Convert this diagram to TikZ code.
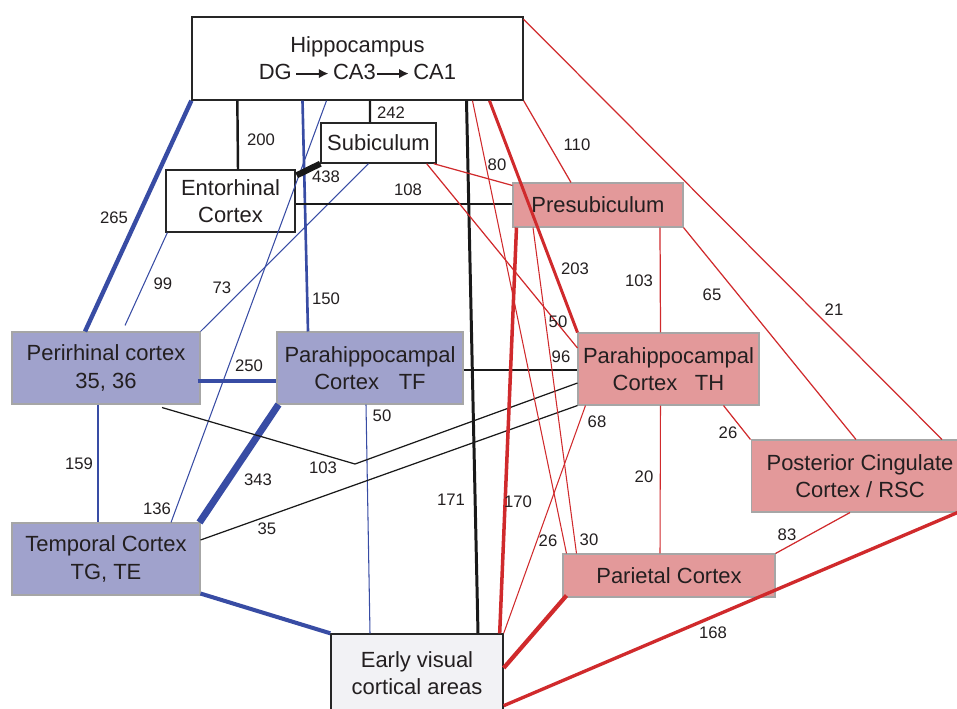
\documentclass[tikz,border=0pt]{standalone}
\usepackage{fontspec}
\setmainfont{Liberation Sans}
\usetikzlibrary{arrows.meta,calc}
\definecolor{txt}{RGB}{35,31,32}
\definecolor{linkblue}{RGB}{56,76,164}
\definecolor{linkred}{RGB}{208,42,44}
\definecolor{boxblue}{RGB}{160,162,204}
\definecolor{boxred}{RGB}{227,153,154}
\definecolor{boxgray}{RGB}{242,242,245}
\newcommand{\cafarrow}{\tikz[baseline=-0.55ex]\draw[draw=txt,line width=1.1pt,-{Latex[length=5.5pt,width=5.5pt]}] (0,0) -- (0.64cm,0);}

\begin{document}
\begin{tikzpicture}[x=0.02cm,y=-0.02cm]
    \tikzstyle{area}=[rectangle,inner sep=0pt,align=center,text=txt,font=\fontsize{12.5}{15.5}\selectfont]
    \tikzstyle{plainbox}=[area,draw=black!85,line width=0.8pt,fill=white]
    \tikzstyle{bluebox}=[area,draw=gray!70,line width=0.6pt,fill=boxblue]
    \tikzstyle{redbox}=[area,draw=gray!70,line width=0.6pt,fill=boxred]
    \tikzstyle{num}=[text=txt,inner sep=1pt,font=\fontsize{9.5}{11}\selectfont]
    \tikzstyle{bl}=[draw=linkblue]
    \tikzstyle{rl}=[draw=linkred]
    \tikzstyle{kl}=[draw=black!90]
    \useasboundingbox (0,0) rectangle (957,708);
    \node (hippo) at (357.5,58.5) [plainbox,minimum width=6.62cm,minimum height=1.66cm] {Hippocampus\\DG\,\cafarrow\,CA3\cafarrow\,CA1};
    \node (sub) at (378.5,143) [plainbox,minimum width=2.3cm,minimum height=0.8cm] {Subiculum};
    \node (ento) at (230.5,201) [plainbox,minimum width=2.58cm,minimum height=1.24cm] {Entorhinal\\Cortex};
    \node (presub) at (598,205) [redbox,minimum width=3.4cm,minimum height=0.88cm] {Presubiculum};
    \node (peri) at (106,368) [bluebox,minimum width=3.76cm,minimum height=1.44cm] {Perirhinal cortex\\35, 36};
    \node (tf) at (370,368) [bluebox,minimum width=3.72cm,minimum height=1.44cm] {Parahippocampal\\Cortex\hspace{0.9em}TF};
    \node (th) at (668.5,369) [redbox,minimum width=3.62cm,minimum height=1.44cm] {Parahippocampal\\Cortex\hspace{0.8em}TH};
    \node (pcc) at (860,476) [redbox,minimum width=4.36cm,minimum height=1.44cm] {Posterior Cingulate\\Cortex / RSC};
    \node (temp) at (106,559) [bluebox,minimum width=3.76cm,minimum height=1.44cm] {Temporal Cortex\\TG, TE};
    \node (par) at (669,575.5) [redbox,minimum width=4.24cm,minimum height=0.86cm] {Parietal Cortex};
    \node (early) at (417,673) [plainbox,fill=boxgray,minimum width=3.44cm,minimum height=1.56cm] {Early visual\\cortical areas};
    \coordinate (bend) at (355,464);
    \draw [bl,line width=2.5pt] (hippo.south west) -- ($(peri.north)+(-21,0)$);
    \draw [bl,line width=0.6pt] ($(ento.south west)+(2,0)$) -- ($(peri.north)+(19,-6)$);
    \draw [bl,line width=0.6pt] (peri.north east) -- ($(sub.south)+(-10,0)$);
    \draw [bl,line width=1.5pt] ($(hippo.south)+(-55,0)$) -- ($(tf.north)+(-62,0)$);
    \draw [bl,line width=0.6pt] ($(hippo.south)+(-31,0)$) -- ($(temp.north)+(65,0)$);
    \draw [bl,line width=2.3pt] ($(peri.east)+(-3,13)$) -- ($(tf.west)+(0,13)$);
    \draw [bl,line width=1.5pt] ($(peri.south)+(-8,0)$) -- ($(temp.north)+(-8,0)$);
    \draw [bl,line width=4pt] ($(tf.south west)+(2,0)$) -- ($(temp.north east)+(-1,0)$);
    \draw [bl,line width=0.6pt] ($(tf.south)+(-4,0)$) -- ($(early.north)+(-47,0)$);
    \draw [bl,line width=2.3pt] ($(temp.south east)+(0,-2)$) -- (early.north west);
    \draw [kl,line width=1.4pt] ($(hippo.south west)+(46,0)$) -- ($(ento.north)+(7.5,0)$);
    \draw [kl,line width=1.4pt] ($(hippo.south)+(12.5,0)$) -- ($(sub.north)+(-8.5,0)$);
    \draw [kl,line width=3.5pt] (sub.south west) -- ($(ento.north east)+(1,6)$);
    \draw [kl,line width=0.7pt] ($(ento.east)+(0,3)$) -- ($(presub.west)+(0,-1)$);
    \draw [kl,line width=1.7pt] ($(hippo.south)+(109,0)$) -- ($(early.north)+(61,0)$);
    \draw [kl,line width=0.7pt] ($(tf.east)+(0,2)$) -- ($(th.west)+(0,1)$);
    \draw [kl,line width=0.7pt] ($(peri.south)+(56,3)$) -- (bend) -- ($(th.west)+(0,14)$);
    \draw [kl,line width=0.7pt] ($(temp.east)+(0,-19)$) -- (th.south west);
    \draw [rl,line width=0.7pt] (hippo.south east) -- ($(presub.north)+(-27,0)$);
    \draw [rl,line width=0.7pt] ($(hippo.north east)+(0,3)$) -- ($(pcc.north)+(82,0)$);
    \draw [rl,line width=0.7pt] (presub.south east) -- ($(pcc.north)+(-4,0)$);
    \draw [rl,line width=0.7pt] ($(presub.south)+(62,0)$) -- ($(th.north)+(-8,0)$);
    \draw [rl,line width=1.7pt] ($(hippo.south)+(132,0)$) -- (th.north west);
    \draw [rl,line width=0.6pt] ($(hippo.south)+(115,0)$) -- ($(par.north west)+(4,0)$);
    \draw [rl,line width=0.6pt] ($(presub.south)+(-65,0)$) -- ($(par.north west)+(14,0)$);
    \draw [rl,line width=0.7pt] ($(sub.south east)+(-3,0)$) -- ($(presub.north west)+(0,3)$);
    \draw [rl,line width=0.7pt] ($(sub.south east)+(-10,0)$) -- ($(th.west)+(0,-21)$);
    \draw [rl,line width=2pt] ($(presub.south west)+(4,0)$) -- ($(early.north east)+(-4,0)$);
    \draw [rl,line width=0.6pt] ($(th.south west)+(8,0)$) -- (early.north east);
    \draw [rl,line width=0.6pt] ($(th.south)+(-8,0)$) -- ($(par.north)+(-9,0)$);
    \draw [rl,line width=0.7pt] ($(th.south east)+(-36,0)$) -- (pcc.north west);
    \draw [rl,line width=0.7pt] ($(pcc.south)+(-10,0)$) -- (par.north east);
    \draw [rl,line width=1.9pt] ($(pcc.south east)+(-12,0)$) -- ($(early.south east)+(0,-7)$);
    \draw [rl,line width=2.4pt] ($(par.south west)+(4,-2)$) -- ($(early.east)+(0,-5)$);
    \node (n265) at (114,218) [num] {265};
    \node (n99) at (163,284) [num] {99};
    \node (n73) at (222,288) [num] {73};
    \node (n150) at (326,299) [num] {150};
    \node (n250) at (249,366) [num] {250};
    \node (n50b) at (382,416) [num] {50};
    \node (n159) at (79,464) [num] {159};
    \node (n136) at (157,509) [num] {136};
    \node (n343) at (258,480) [num] {343};
    \node (n103k) at (323,468) [num] {103};
    \node (n35) at (267,529) [num] {35};
    \node (n200) at (261,140) [num] {200};
    \node (n242) at (391,113) [num] {242};
    \node (n438) at (326,177) [num] {438};
    \node (n108) at (408,190) [num] {108};
    \node (n171) at (451,500) [num] {171};
    \node (n96) at (561,357) [num] {96};
    \node (n80) at (497,165) [num] {80};
    \node (n110) at (577,145) [num] {110};
    \node (n21) at (834,310) [num] {21};
    \node (n65) at (712,295) [num] {65};
    \node (n103r) at (639,281) [num] {103};
    \node (n203) at (575,269) [num] {203};
    \node (n50r) at (558,322) [num] {50};
    \node (n68) at (597,422) [num] {68};
    \node (n26t) at (728,433) [num] {26};
    \node (n20) at (644,477) [num] {20};
    \node (n83) at (787,535) [num] {83};
    \node (n170) at (518,502) [num] {170};
    \node (n26p) at (548,541) [num] {26};
    \node (n30) at (589,540) [num] {30};
    \node (n168) at (713,633) [num] {168};
\end{tikzpicture}
\end{document}
